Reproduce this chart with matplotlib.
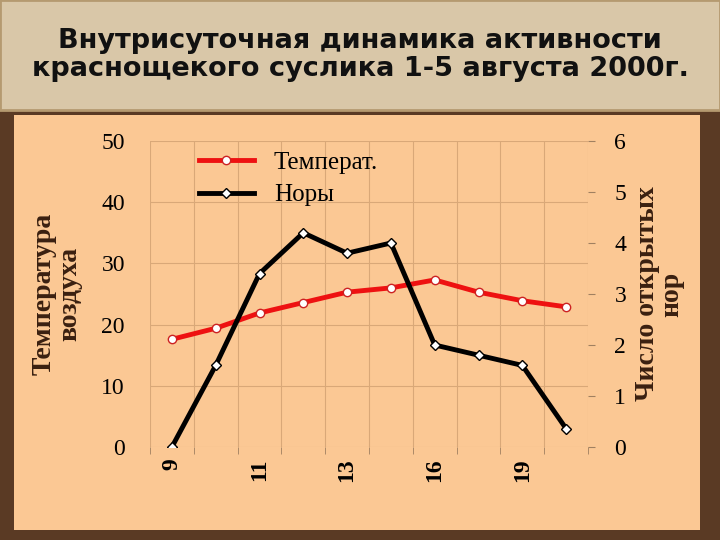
import matplotlib
matplotlib.use("Agg")
import matplotlib.pyplot as plt
from matplotlib.patches import Rectangle

title = "Внутрисуточная динамика активности\nкраснощекого суслика 1-5 августа 2000г."
x_labels = ["9", "11", "13", "16", "19"]
temp = [17.6, 19.4, 21.9, 23.6, 25.3, 26.0, 27.3, 25.3, 23.9, 22.9]
burrows = [0.0, 1.6, 3.4, 4.2, 3.8, 4.0, 2.0, 1.8, 1.6, 0.36]

W, H = 720, 540
fig = plt.figure(figsize=(7.2, 5.4), dpi=100)
fig.patch.set_facecolor("#5a3a24")
fig.add_artist(Rectangle((0, 1 - 110/H), 1, 110/H, transform=fig.transFigure,
                         facecolor="#d9c7a8", edgecolor="#b59a70", lw=2, zorder=-2))
fig.text(0.5, 1 - 55/H, title, ha="center", va="center", fontsize=19.5,
         fontweight="bold", family="DejaVu Sans", color="#111111", linespacing=1.15)
fig.add_artist(Rectangle((14/W, 1 - 530/H), 686/W, 415/H, transform=fig.transFigure,
                         facecolor="#fbc894", edgecolor="none", zorder=-2))

ax = fig.add_axes([150/W, 1 - 447/H, 438/W, 306/H])
ax.set_facecolor("#fbc894")
xs = list(range(len(temp)))
ax.set_xlim(-0.5, 9.5)
ax.set_ylim(0, 50)
ax.set_yticks([0, 10, 20, 30, 40, 50])
ax.set_xticks([0, 2, 4, 6, 8])
ax.set_xticklabels(x_labels, rotation=90, fontsize=17, fontweight="bold", family="Liberation Serif")
ax.set_xticks([i + 0.5 for i in range(-1, 10)], minor=True)
ax.tick_params(axis="x", which="major", length=0, pad=8)
ax.tick_params(axis="x", which="minor", length=5, color="#a08060")
ax.tick_params(axis="y", labelsize=17, length=0, pad=18)
for t in ax.get_yticklabels():
    t.set_family("Liberation Serif")
ax.grid(True, which="minor", axis="x", color="#d9a878", lw=0.8)
ax.grid(True, which="major", axis="y", color="#d9a878", lw=0.8)
for s in ax.spines.values():
    s.set_visible(False)
ax.set_ylabel("Температура\nвоздуха", fontsize=20, fontweight="bold", family="Liberation Serif",
              color="#3a2010", labelpad=14, linespacing=1.0)

ax2 = ax.twinx()
ax2.set_ylim(0, 6)
ax2.set_yticks(range(7))
ax2.tick_params(axis="y", labelsize=17, length=5, color="#a08060", pad=14)
for t in ax2.get_yticklabels():
    t.set_family("Liberation Serif")
for s in ax2.spines.values():
    s.set_visible(False)
ax2.set_ylabel("Число открытых\nнор", fontsize=20, fontweight="bold", family="Liberation Serif",
               rotation=90, labelpad=6, linespacing=1.0, color="#3a2010")

l1, = ax.plot(xs, temp, color="#ee1111", lw=3.5, marker="o", ms=6,
              mfc="white", mec="#cc2222", label="Температ.")
l2, = ax2.plot(xs, burrows, color="black", lw=3.5, marker="D", ms=5,
               mfc="white", mec="black", label="Норы")
leg = ax.legend(handles=[l1, l2], loc="upper left", bbox_to_anchor=(0.06, 1.04),
                frameon=False, prop={"family": "Liberation Serif", "size": 18},
                handlelength=2.2, labelspacing=0.4)
fig.savefig("out.png", dpi=100, facecolor=fig.get_facecolor())
